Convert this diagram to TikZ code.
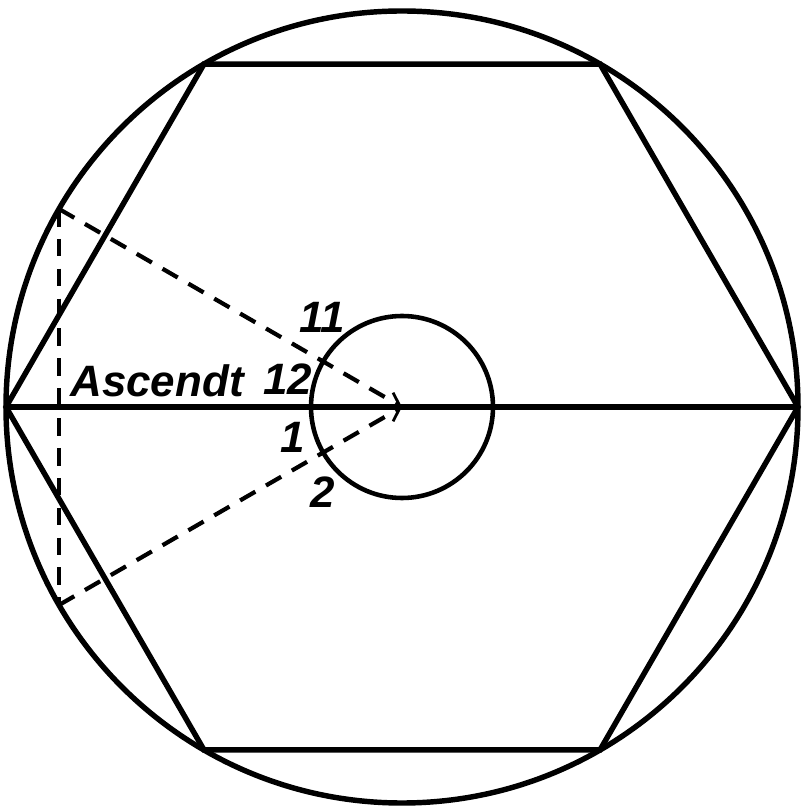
\documentclass[tikz,border=0pt]{standalone}
\usepackage{fontspec}
\setsansfont{Liberation Sans}
\usepackage{tikz}
\usetikzlibrary{arrows.meta}
\tikzset{
    rim/.style={line width=3.1pt},
    hub/.style={line width=2.6pt},
    ray/.style={line width=2.4pt, dash pattern=on 10pt off 7pt},
    tip/.style={-{Straight Barb[length=7pt, width=9pt, line width=1.6pt]}},
    lbl/.style={font=\sffamily\bfseries\itshape\fontsize{25}{30}\selectfont, inner sep=0pt}
}

\begin{document}
\begin{tikzpicture}[x=0.02cm, y=0.02cm]
        \useasboundingbox (-402,-403) rectangle (399,407);
        \coordinate (o) at (0,0);
        % hexagon corners on the big circle
        \foreach \i in {1,...,6}
            \coordinate (h\i) at ({60*(\i-1)}:396);
        \coordinate (a1) at (150:396);
        \coordinate (a2) at (210:396);

        \draw[rim] (o) circle (396);
        \draw[rim] (h1) -- (h2) -- (h3) -- (h4) -- (h5) -- (h6) -- cycle;
        \draw[rim] (h4) -- (h1);
        \draw[hub] (o) circle (91);

        \draw[ray, tip] (a1) -- (o);
        \draw[ray, tip] (a2) -- (o);
        \draw[ray] (a1) -- (a2);

        \node[lbl] (asc) at (-245,26) {Ascendt};
        \node[lbl] (n11) at (-80,90) {11};
        \node[lbl] (n12) at (-114,28) {12};
        \node[lbl] (n1) at (-109,-30) {1};
        \node[lbl] (n2) at (-79,-85) {2};
    \end{tikzpicture}
\end{document}
